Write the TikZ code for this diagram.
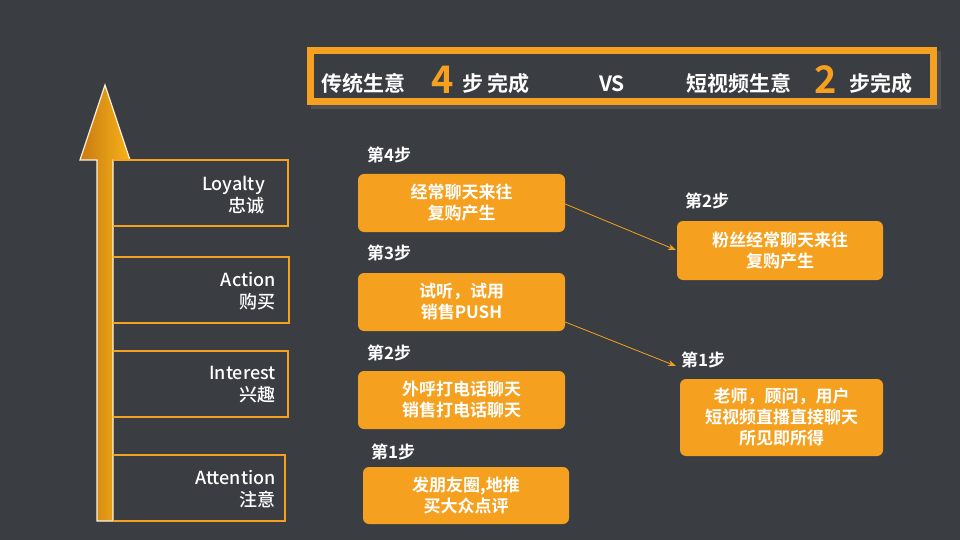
\documentclass[tikz,border=0pt]{standalone}
\usepackage{fontspec}
\setmainfont{Noto Sans CJK SC Bold}
\newfontfamily\lvlfont{Noto Sans CJK SC Medium}
\usetikzlibrary{arrows.meta,shadows}
\definecolor{bg}{HTML}{3A3D42}
\definecolor{org}{HTML}{F5A01F}
\definecolor{dorg}{HTML}{C97A10}
\tikzset{
 stepbox/.style={fill=org,rounded corners=6pt,text=white,font=\fontsize{17}{21}\selectfont,align=center,inner sep=0pt},
 steplbl/.style={text=white,font=\fontsize{17}{20}\selectfont,anchor=west,inner sep=0pt},
 brk/.style={draw=org,line width=2pt},
 lvl/.style={text=white,font=\lvlfont\fontsize{18}{22}\selectfont,align=right,anchor=east,inner sep=0pt},
 conn/.style={draw=org,line width=0.8pt,-{Stealth[length=8pt,width=6pt]}},
 ttl/.style={text=white,font=\fontsize{21}{24}\selectfont,anchor=base west,inner sep=0}
}
\begin{document}
\begin{tikzpicture}[x=1pt,y=-1pt]
\fill[bg] (0,0) rectangle (960,540);
\useasboundingbox (0,0) rectangle (960,540);
% title
\fill[black!60,opacity=0.5] (311,51) rectangle (941,109);
\fill[org] (307,47) rectangle (937,105);
\fill[bg] (314,54) rectangle (930,98);
\node[ttl] (t1) at (321,92) {传统生意};
\node[ttl,text=org,font=\fontsize{38}{40}\selectfont] (t2) at (431,94) {4};
\node[ttl] (t3) at (462,92) {步 完成};
\node[ttl] (t4) at (599,92) {VS};
\node[ttl] (t5) at (686,92) {短视频生意};
\node[ttl,text=org,font=\fontsize{38}{40}\selectfont] (t6) at (814,94) {2};
\node[ttl] (t7) at (849,92) {步完成};
% big arrow
\shade[left color=dorg,right color=org!80!yellow,draw=white!85!org,line width=1.2pt]
 (97,521) -- (97,160) -- (80,160) -- (105,85) -- (130,160) -- (113,160) -- (113,521) -- cycle;
% brackets
\draw[brk] (113,160) -- (288,160) -- (288,226) -- (113,226);
\draw[brk] (113,257) -- (289,257) -- (289,323) -- (113,323);
\draw[brk] (113,351) -- (288,351) -- (288,417) -- (113,417);
\draw[brk] (113,455) -- (285,455) -- (285,521) -- (113,521);
\node[lvl] (l1) at (265,195) {Loyalty\\忠诚};
\node[lvl] (l2) at (276,291) {Action\\购买};
\node[lvl] (l3) at (276,385) {Interest\\兴趣};
\node[lvl] (l4) at (276,489) {Attention\\注意};
% left steps
\node[stepbox,minimum width=207pt,minimum height=58pt] (s4) at (461.5,203) {经常聊天来往\\复购产生};
\node[stepbox,minimum width=207pt,minimum height=58pt] (s3) at (461.5,302) {试听，试用\\销售PUSH};
\node[stepbox,minimum width=207pt,minimum height=58pt] (s2) at (461.5,400) {外呼打电话聊天\\销售打电话聊天};
\node[stepbox,minimum width=206pt,minimum height=57pt] (s1) at (466,495.5) {发朋友圈,地推\\买大众点评};
\node[steplbl] (n4) at (367,155) {第4步};
\node[steplbl] (n3) at (367,253) {第3步};
\node[steplbl] (n2) at (367,353) {第2步};
\node[steplbl] (n1) at (371,452) {第1步};
% right steps
\node[stepbox,minimum width=206pt,minimum height=59pt] (r2) at (780,250.5) {粉丝经常聊天来往\\复购产生};
\node[stepbox,minimum width=203pt,minimum height=77pt] (r1) at (781.5,417.5) {老师，顾问，用户\\短视频直播直接聊天\\所见即所得};
\node[steplbl] (m2) at (685,201) {第2步};
\node[steplbl] (m1) at (681,360) {第1步};
\coordinate (a1) at (676,250);
\coordinate (a2) at (676,366);
\draw[conn] (s4.east) ++(0,1) -- (a1);
\draw[conn] (s3.east) ++(0,20) -- (a2);
\end{tikzpicture}
\end{document}
